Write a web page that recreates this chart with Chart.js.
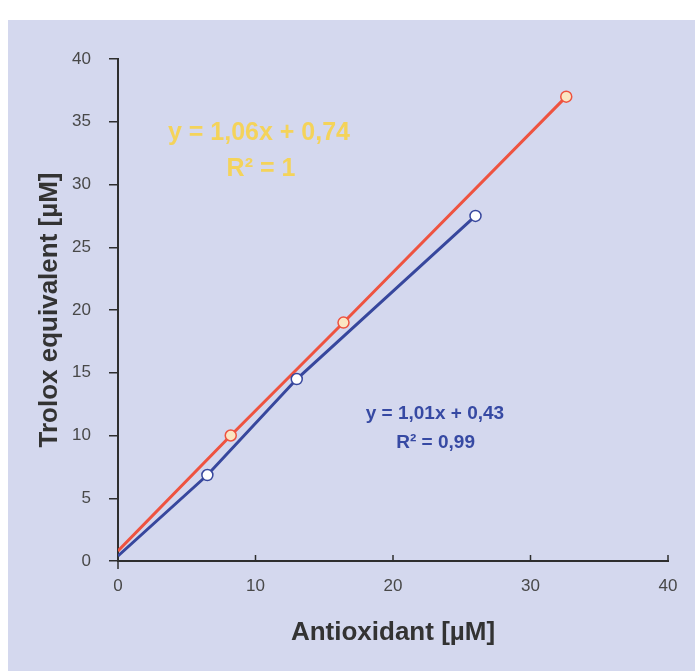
<!DOCTYPE html>
<html>
<head>
<meta charset="utf-8">
<script src="https://cdn.jsdelivr.net/npm/chart.js@4.4.1/dist/chart.umd.min.js"></script>
<style>
  html, body { margin: 0; padding: 0; background: #ffffff; }
  canvas { display: block; }
</style>
</head>
<body>
<canvas id="c" width="695" height="671"></canvas>
<script>
// ---- data ----
const redX = [8.2, 16.4, 32.6];
const redY = [10, 19, 37];
const redIntercept = 0.8;
const blueX = [6.5, 13.0, 26.0];
const blueY = [6.85, 14.5, 27.5];
const blueIntercept = 0.4;
const xMin = 0, xMax = 40, xStep = 10;
const yMin = 0, yMax = 40, yStep = 5;
const redEqLines = ['y = 1,06x + 0,74', 'R\u00B2 = 1'];
const redEqAt = [[10.25, 34.1], [10.4, 31.2]];
const blueEqLines = ['y = 1,01x + 0,43', 'R\u00B2 = 0,99'];
const blueEqAt = [[23.05, 11.7], [23.1, 9.4]];
const xTitle = 'Antioxidant [\u00B5M]';
const yTitle = 'Trolox equivalent [\u00B5M]';

const RED = '#ee5340';
const BLUE = '#37479d';
const AXIS = '#2e2e2e';
const FONT = "'Liberation Sans', Arial, sans-serif";

function series(xs, ys, x0, y0) {
  return [{x: x0, y: y0}].concat(xs.map((x, i) => ({x: x, y: ys[i]})));
}

const bgPlugin = {
  id: 'bg',
  beforeDraw(chart) {
    const ctx = chart.ctx;
    ctx.save();
    ctx.fillStyle = '#ffffff';
    ctx.fillRect(0, 0, chart.width, chart.height);
    ctx.fillStyle = '#d4d8ee';
    ctx.fillRect(8, 20, chart.width - 8, chart.height - 20);
    ctx.restore();
  }
};

const axisExtras = {
  id: 'axisExtras',
  afterDatasetsDraw(chart) {
    const ctx = chart.ctx;
    const xs = chart.scales.x, ys = chart.scales.y;
    const y0 = ys.getPixelForValue(yMin);
    const x0 = xs.getPixelForValue(xMin);
    ctx.save();
    ctx.strokeStyle = AXIS;
    ctx.lineWidth = 1.5;
    ctx.beginPath();
    for (let v = xMin + xStep; v <= xMax; v += xStep) {
      const px = xs.getPixelForValue(v);
      ctx.moveTo(px, y0 + 1);
      ctx.lineTo(px, y0 - 6);
    }
    ctx.moveTo(x0, y0);
    ctx.lineTo(x0, y0 + 8);
    ctx.stroke();
    ctx.restore();
  },
  afterDraw(chart) {
    const ctx = chart.ctx;
    const xs = chart.scales.x, ys = chart.scales.y;
    ctx.save();
    ctx.textAlign = 'center';
    ctx.textBaseline = 'middle';
    ctx.fillStyle = '#f4d35a';
    ctx.font = 'bold 25px ' + FONT;
    redEqLines.forEach((t, i) => {
      ctx.fillText(t, xs.getPixelForValue(redEqAt[i][0]), ys.getPixelForValue(redEqAt[i][1]));
    });
    ctx.fillStyle = '#3649a3';
    ctx.font = 'bold 19px ' + FONT;
    blueEqLines.forEach((t, i) => {
      ctx.fillText(t, xs.getPixelForValue(blueEqAt[i][0]), ys.getPixelForValue(blueEqAt[i][1]));
    });
    ctx.restore();
  }
};

Chart.defaults.font.family = FONT;

new Chart(document.getElementById('c'), {
  type: 'scatter',
  data: {
    datasets: [
      {
        data: series(blueX, blueY, 0, blueIntercept),
        showLine: true,
        borderColor: BLUE,
        borderWidth: 3,
        pointRadius: [0, 5.5, 5.5, 5.5],
        pointBackgroundColor: '#ffffff',
        pointBorderColor: BLUE,
        pointBorderWidth: 1.5
      },
      {
        data: series(redX, redY, 0, redIntercept),
        showLine: true,
        borderColor: RED,
        borderWidth: 3,
        pointRadius: [0, 5.5, 5.5, 5.5],
        pointBackgroundColor: '#fbe6c2',
        pointBorderColor: RED,
        pointBorderWidth: 1.5
      }
    ]
  },
  options: {
    responsive: false,
    animation: false,
    devicePixelRatio: 1,
    layout: { padding: { left: 0, top: 59, right: 27, bottom: 23 } },
    plugins: { legend: { display: false }, tooltip: { enabled: false } },
    events: [],
    scales: {
      x: {
        type: 'linear',
        min: xMin, max: xMax,
        ticks: { stepSize: xStep, padding: 15, color: '#484848', font: { size: 17 } },
        grid: { display: false, drawTicks: false },
        border: { display: true, color: AXIS, width: 2 },
        title: { display: true, text: xTitle, color: '#333333', padding: 0,
                 font: { size: 26, weight: 'bold' } },
        afterFit(s) { s.height = 87; }
      },
      y: {
        type: 'linear',
        min: yMin, max: yMax,
        ticks: { stepSize: yStep, padding: 18, color: '#484848', font: { size: 17 } },
        grid: { drawOnChartArea: false, drawTicks: true, tickLength: 9, color: AXIS, lineWidth: 1.5 },
        border: { display: true, color: AXIS, width: 2 },
        title: { display: true, text: yTitle, color: '#333333', padding: { top: 34, bottom: 0 },
                 font: { size: 26, weight: 'bold' } },
        afterFit(s) { s.width = 118; }
      }
    }
  },
  plugins: [bgPlugin, axisExtras]
});
</script>
</body>
</html>
